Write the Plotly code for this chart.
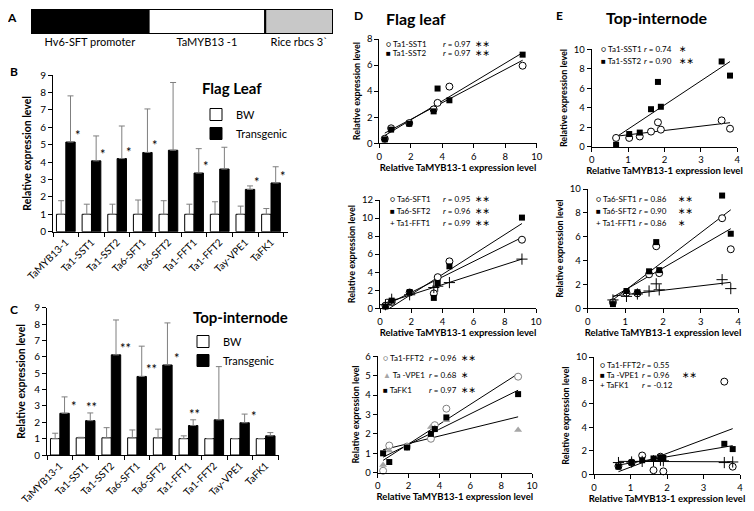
import numpy as np
import plotly.graph_objects as go

# ---------------- data ----------------
# Panel A: construct
construct_parts = ["Hv6-SFT promoter", "TaMYB13 -1", "Rice rbcs 3`"]
construct_lengths = [118, 117, 68]
construct_colors = ["black", "white", "#c8c8c8"]

# Panels B / C: bar charts
genes = ["TaMYB13-1", "Ta1-SST1", "Ta1-SST2", "Ta6-SFT1", "Ta6-SFT2",
         "Ta1-FFT1", "Ta1-FFT2", "Tay-VPE1", "TaFK1"]
flag_bw = [1.0, 1.0, 1.0, 1.0, 1.0, 1.0, 1.0, 1.0, 1.0]
flag_bw_top = [1.78, 1.58, 1.58, 1.82, 1.78, 1.58, 1.72, 1.47, 1.33]
flag_tr = [5.15, 4.07, 4.2, 4.55, 4.68, 3.37, 3.6, 2.43, 2.8]
flag_tr_top = [7.8, 5.5, 6.07, 7.05, 8.57, 4.77, 4.85, 2.63, 3.73]
flag_sig = ["*", "*", "*", "*", "", "*", "", "*", "*"]

int_bw = [1.0, 1.05, 1.05, 1.05, 1.05, 1.0, 1.0, 1.0, 1.0]
int_bw_top = [1.33, 1.08, 1.67, 1.53, 1.58, 1.17, 1.0, 1.0, 1.0]
int_tr = [2.55, 2.1, 6.12, 4.8, 5.5, 1.8, 2.15, 1.97, 1.17]
int_tr_top = [3.55, 2.57, 8.25, 6.65, 8.07, 2.15, 5.4, 2.5, 1.37]
int_sig = ["*", "**", "**", "**", "*", "**", "", "*", ""]
int_sig_place = ["right", "above", "right", "right", "right", "above", "", "right", ""]

# Panels D: flag leaf correlations
D_x = [0.35, 0.75, 1.9, 3.45, 3.7, 4.45, 9.1]
D1_SST1 = [0.35, 1.15, 1.55, 2.6, 3.1, 4.35, 5.95]
D1_SST2 = [0.3, 1.05, 1.5, 2.45, 4.2, 3.3, 6.8]
D2_SFT1 = [0.3, 0.7, 1.75, 1.65, 3.45, 5.2, 7.6]
D2_SFT2 = [0.2, 0.85, 1.8, 1.15, 2.8, 4.65, 10.05]
D2_FFT1 = [0.4, 1.0, 1.5, 2.3, 2.45, 2.85, 5.45]
D3_FFT2 = [0.1, 1.4, 1.35, 1.75, 2.45, 3.3, 4.95]
D3_VPE1 = [0.4, 1.15, 1.3, 2.35, 2.3, 2.7, 2.2]
D3_FK1 = [1.0, 0.55, 1.3, 2.0, 2.25, 2.85, 4.05]

# Panels E: top-internode correlations
E_x = [0.67, 1.03, 1.32, 1.63, 1.82, 1.9, 3.57, 3.8]
E1_SST1 = [0.9, 0.9, 1.05, 1.55, 2.5, 1.75, 2.7, 1.85]
E1_SST2 = [0.2, 1.3, 1.45, 3.85, 6.65, 4.1, 8.75, 7.3]
E2_SFT1 = [0.5, 1.3, 1.25, 2.85, 5.2, 2.95, 7.55, 4.95]
E2_SFT2 = [0.35, 1.45, 1.35, 3.1, 5.55, 3.2, 9.45, 6.25]
E2_FFT1 = [0.7, 1.0, 1.2, 1.45, 2.05, 1.55, 2.4, 1.65]
E3_FFT2 = [0.7, 1.0, 1.6, 0.35, 1.5, 0.25, 7.9, 0.65]
E3_VPE1 = [0.65, 1.0, 1.2, 1.35, 1.45, 1.4, 2.6, 2.15]
E3_FK1 = [1.0, 1.05, 1.1, 1.15, 1.2, 1.15, 1.0, 1.05]

# r values shown in legends
D1_r = [("Ta1-SST1", "0.97", "**"), ("Ta1-SST2", "0.97", "**")]
D2_r = [("Ta6-SFT1", "0.95", "**"), ("Ta6-SFT2", "0.96", "**"), ("Ta1-FFT1", "0.99", "**")]
D3_r = [("Ta1-FFT2", "0.96", "**"), ("Ta -VPE1", "0.68", "*"), ("TaFK1", "0.97", "**")]
E1_r = [("Ta1-SST1", "0.74", "*"), ("Ta1-SST2", "0.90", "**")]
E2_r = [("Ta6-SFT1", "0.86", "**"), ("Ta6-SFT2", "0.90", "**"), ("Ta1-FFT1", "0.86", "*")]
E3_r = [("Ta1-FFT2", "0.55", ""), ("Ta -VPE1", "0.96", "**"), ("TaFK1", "-0.12", "")]

# ---------------- helpers ----------------
# the page has an 8 px body margin; positions below are given in window pixels
OFF = 8
W, H = 754 - OFF, 511 - OFF
FONT = "Lato"


def pxx(x):
    return min(1.0, max(0.0, (x - OFF) / W))


def pxy(y):
    return min(1.0, max(0.0, 1 - (y - OFF) / H))


def xd(a, b):
    return [pxx(a), pxx(b)]


def yd(top, bottom):
    return [pxy(bottom), pxy(top)]


fig = go.Figure()
ann = []

# ---------------- Panel A ----------------
starts = np.concatenate([[0], np.cumsum(construct_lengths)[:-1]])
centers = starts + np.array(construct_lengths) / 2
fig.add_trace(go.Bar(
    x=construct_lengths, base=starts, y=[0] * len(construct_lengths), orientation="h",
    width=1, marker=dict(color=construct_colors, line=dict(color="black", width=2)),
    xaxis="x", yaxis="y", showlegend=False, hoverinfo="skip", cliponaxis=False))

# ---------------- Panels B, C ----------------
def upper(vals, tops):
    return [t - v if t - v > 0.001 else None for v, t in zip(vals, tops)]


err_style = dict(type="data", symmetric=False, color="#7f7f7f", thickness=1, width=3)

for (bw, bwt, tr, trt, xa, ya, leg) in [
        (flag_bw, flag_bw_top, flag_tr, flag_tr_top, "x2", "y2", "legend"),
        (int_bw, int_bw_top, int_tr, int_tr_top, "x3", "y3", "legend2")]:
    fig.add_trace(go.Bar(
        x=genes, y=bw, name="BW",
        marker=dict(color="white", line=dict(color="black", width=1)),
        error_y=dict(array=upper(bw, bwt), arrayminus=[0] * 9, **err_style),
        xaxis=xa, yaxis=ya, legend=leg))
    fig.add_trace(go.Bar(
        x=genes, y=tr, name="Transgenic",
        marker=dict(color="black", line=dict(color="black", width=1)),
        error_y=dict(array=upper(tr, trt), arrayminus=[0] * 9, **err_style),
        xaxis=xa, yaxis=ya, legend=leg))

for g, v, s in zip(genes, flag_tr, flag_sig):
    if s:
        ann.append(dict(x=g, y=v, xref="x2", yref="y2", text=s, showarrow=False,
                        xshift=12, yshift=-3, yanchor="bottom",
                        font=dict(size=13, color="black")))
for g, v, t, s, p in zip(genes, int_tr, int_tr_top, int_sig, int_sig_place):
    if s:
        if p == "above":
            ann.append(dict(x=g, y=t, xref="x3", yref="y3", text=s, showarrow=False,
                            xshift=6, yshift=-4, yanchor="bottom",
                            font=dict(size=13, color="black")))
        else:
            ann.append(dict(x=g, y=v, xref="x3", yref="y3", text=s, showarrow=False,
                            xshift=14, yshift=-3, yanchor="bottom",
                            font=dict(size=13, color="black")))

# ---------------- scatter panels ----------------
MK = {
    "circle": dict(symbol="circle", size=7, color="white", line=dict(color="black", width=1)),
    "circle_g": dict(symbol="circle", size=7, color="white", line=dict(color="#808080", width=1)),
    "square": dict(symbol="square", size=6, color="black", line=dict(color="black", width=0)),
    "cross": dict(symbol="cross-thin", size=8, color="black", line=dict(color="black", width=1)),
    "tri": dict(symbol="triangle-up", size=7, color="#a6a6a6", line=dict(width=0)),
}
LEG_SYM = {
    "circle": "○", "circle_g": "<span style='color:#808080'>○</span>",
    "square": "■", "cross": "+", "tri": "<span style='color:#a6a6a6'>▲</span>",
}

panels = [
    # xaxis, yaxis, x data, series, r info, legend rows y(px), name x, r x, star x
    ("x4", "y4", D_x, [("Ta1-SST1", D1_SST1, "circle"), ("Ta1-SST2", D1_SST2, "square")],
     D1_r, [44, 53.5], 384, 441, 473),
    ("x5", "y5", D_x, [("Ta6-SFT1", D2_SFT1, "circle"), ("Ta6-SFT2", D2_SFT2, "square"),
                       ("Ta1-FFT1", D2_FFT1, "cross")],
     D2_r, [199, 211, 223], 388, 441, 473),
    ("x6", "y6", D_x, [("Ta1-FFT2", D3_FFT2, "circle_g"), ("Ta -VPE1", D3_VPE1, "tri"),
                       ("TaFK1", D3_FK1, "square")],
     D3_r, [358, 375, 390], 381, 427, 459),
    ("x7", "y7", E_x, [("Ta1-SST1", E1_SST1, "circle"), ("Ta1-SST2", E1_SST2, "square")],
     E1_r, [49, 61], 599, 642, 677),
    ("x8", "y8", E_x, [("Ta6-SFT1", E2_SFT1, "circle"), ("Ta6-SFT2", E2_SFT2, "square"),
                       ("Ta1-FFT1", E2_FFT1, "cross")],
     E2_r, [199, 211, 223], 594, 637, 676),
    ("x9", "y9", E_x, [("Ta1-FFT2", E3_FFT2, "circle"), ("Ta -VPE1", E3_VPE1, "square"),
                       ("TaFK1", E3_FK1, "cross")],
     E3_r, [365, 375, 385], 598, 640, 680),
]

LF = 8
for xa, ya, xs, series, rinfo, rows, nx, rx, sx in panels:
    xs_arr = np.array(xs)
    xs_sorted = np.sort(xs_arr)
    # trend lines (least-squares fit of the data)
    for name, ys, sym in series:
        coef = np.polyfit(xs_arr, np.array(ys), 1)
        fig.add_trace(go.Scatter(x=xs_sorted, y=np.polyval(coef, xs_sorted), mode="lines",
                                 line=dict(color="black", width=1), xaxis=xa, yaxis=ya,
                                 showlegend=False, hoverinfo="skip", cliponaxis=False))
    for name, ys, sym in series:
        fig.add_trace(go.Scatter(x=xs, y=ys, mode="markers", name=name, marker=MK[sym],
                                 xaxis=xa, yaxis=ya, showlegend=False, cliponaxis=False))
    for (name, ys, sym), (lname, r, st), yrow in zip(series, rinfo, rows):
        ann.append(dict(x=pxx(nx), y=pxy(yrow), xref="paper", yref="paper",
                        text=f"{LEG_SYM[sym]} {lname}", showarrow=False,
                        xanchor="left", yanchor="middle",
                        font=dict(size=LF, color="black", family=FONT)))
        ann.append(dict(x=pxx(rx), y=pxy(yrow), xref="paper", yref="paper",
                        text=f"<i>r</i> = {r}", showarrow=False,
                        xanchor="left", yanchor="middle",
                        font=dict(size=LF, color="black", family=FONT)))
        if st:
            ann.append(dict(x=pxx(sx), y=pxy(yrow), xref="paper", yref="paper",
                            text=st.replace("*", "∗"), showarrow=False,
                            xanchor="left", yanchor="middle",
                            font=dict(size=9, color="black", family="DejaVu Sans")))

# ---------------- texts: panel letters and titles ----------------
for txt, x, y, size in [("A", 12, 17, 12), ("B", 14, 72, 12), ("C", 14, 309, 12),
                        ("D", 358, 16, 12), ("E", 559, 16, 12)]:
    ann.append(dict(x=pxx(x), y=pxy(y), xref="paper", yref="paper", text=f"<b>{txt}</b>",
                    showarrow=False, xanchor="center", yanchor="middle",
                    font=dict(size=size, color="black")))
for txt, x, y, size in [("Flag Leaf", 232, 88, 15), ("Top-internode", 240, 317, 15),
                        ("Flag leaf", 416, 19, 16), ("Top-internode", 657, 17, 16)]:
    ann.append(dict(x=pxx(x), y=pxy(y), xref="paper", yref="paper", text=f"<b>{txt}</b>",
                    showarrow=False, xanchor="center", yanchor="middle",
                    font=dict(size=size, color="black")))

# ---------------- axes ----------------
AX = dict(showline=True, linecolor="black", linewidth=1, ticks="outside", ticklen=4,
          tickcolor="black", showgrid=False, zeroline=False, tickfont=dict(size=10),
          automargin=False)

layout = dict(
    width=W, height=H, margin=dict(l=0, r=0, t=0, b=0),
    paper_bgcolor="white", plot_bgcolor="white",
    font=dict(family=FONT, color="black"),
    barmode="group", bargap=0.27, bargroupgap=0,
    showlegend=True, annotations=ann,
)

# A
layout["xaxis"] = dict(domain=xd(31, 333), range=[0, float(np.sum(construct_lengths))],
                       tickvals=list(centers), ticktext=construct_parts, showline=False,
                       showgrid=False, zeroline=False, ticks="", tickfont=dict(size=11),
                       anchor="y", automargin=False, fixedrange=True)
layout["yaxis"] = dict(domain=yd(9, 34), range=[-0.5, 0.5], visible=False, anchor="x")

# B, C
ytitle = dict(text="<b>Relative expression level</b>", font=dict(size=10.5), standoff=6)
layout["xaxis2"] = dict(AX, domain=xd(53, 288), anchor="y2", type="category",
                        tickson="boundaries", tickangle=-45, tickfont=dict(size=10))
layout["yaxis2"] = dict(AX, domain=yd(75, 231.7), anchor="x2", range=[0, 9], dtick=1,
                        title=ytitle)
layout["xaxis3"] = dict(AX, domain=xd(47, 278.5), anchor="y3", type="category",
                        tickson="boundaries", tickangle=-45, tickfont=dict(size=10))
layout["yaxis3"] = dict(AX, domain=yd(307.7, 455), anchor="x3", range=[0, 9], dtick=1,
                        title=ytitle)

# scatter axes
xt = dict(text="<b>Relative TaMYB13-1 expression level</b>", font=dict(size=9.5), standoff=2)
yt = dict(text="<b>Relative expression level</b>", font=dict(size=9), standoff=4)
sc = [
    ("4", (379.3, 536.8), (39, 143.3), [0, 10], 2, [0, 8], 2),
    ("5", (380, 536), (200, 308.3), [0, 10], 2, [0, 12], 2),
    ("6", (377.7, 532), (356.3, 472.7), [0, 10], 2, [0, 6], 1),
    ("7", (591.7, 737.3), (49.3, 146.7), [0, 4], 1, [0, 10], 2),
    ("8", (587.7, 738.3), (189, 308.3), [0, 4], 1, [0, 10], 2),
    ("9", (594, 740), (357, 474.3), [0, 4], 1, [0, 10], 2),
]
for n, (xa, xb), (yt_, yb), xr, xdt, yr, ydt in sc:
    layout["xaxis" + n] = dict(AX, domain=xd(xa, xb), anchor="y" + n, range=xr, dtick=xdt,
                               title=xt, tickfont=dict(size=9.5))
    layout["yaxis" + n] = dict(AX, domain=yd(yt_, yb), anchor="x" + n, range=yr, dtick=ydt,
                               title=yt, tickfont=dict(size=9.5))

# legends for bar panels
layout["legend"] = dict(x=pxx(196), y=pxy(100), xanchor="left", yanchor="top",
                        bgcolor="rgba(0,0,0,0)", font=dict(size=11), tracegroupgap=0,
                        itemwidth=30)
layout["legend2"] = dict(x=pxx(183), y=pxy(327), xanchor="left", yanchor="top",
                         bgcolor="rgba(0,0,0,0)", font=dict(size=11), tracegroupgap=0,
                         itemwidth=30)

fig.update_layout(**layout)
fig.write_html("out.html")
